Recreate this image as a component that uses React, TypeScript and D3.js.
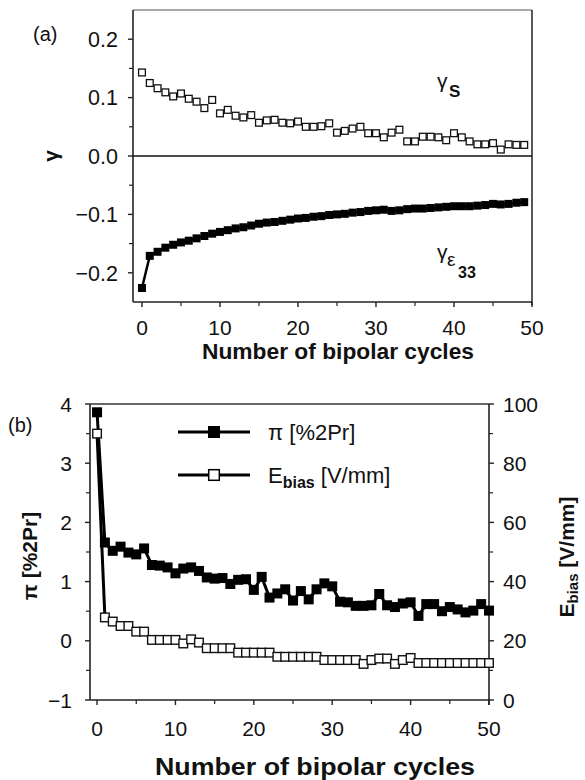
import React from "react";
import * as d3 from "d3";

// ---------- Data ----------
const cyclesA = [0,1,2,3,4,5,6,7,8,9,10,11,12,13,14,15,16,17,18,19,20,21,22,23,24,25,26,27,28,29,30,31,32,33,34,35,36,37,38,39,40,41,42,43,44,45,46,47,48,49];
const gammaS = [0.143,0.125,0.116,0.109,0.102,0.107,0.098,0.093,0.082,0.096,0.073,0.079,0.069,0.066,0.070,0.057,0.061,0.062,0.057,0.056,0.059,0.050,0.050,0.051,0.056,0.040,0.043,0.047,0.050,0.039,0.039,0.032,0.040,0.045,0.025,0.025,0.033,0.033,0.032,0.027,0.039,0.032,0.025,0.020,0.020,0.022,0.011,0.020,0.019,0.019];
const gammaE33 = [-0.226,-0.171,-0.164,-0.157,-0.152,-0.148,-0.145,-0.141,-0.137,-0.133,-0.130,-0.127,-0.124,-0.122,-0.119,-0.116,-0.114,-0.113,-0.111,-0.109,-0.107,-0.106,-0.104,-0.103,-0.101,-0.100,-0.099,-0.097,-0.096,-0.094,-0.093,-0.092,-0.094,-0.093,-0.091,-0.090,-0.090,-0.089,-0.088,-0.087,-0.086,-0.086,-0.086,-0.085,-0.084,-0.082,-0.083,-0.082,-0.080,-0.079];

const cyclesB = [0,1,2,3,4,5,6,7,8,9,10,11,12,13,14,15,16,17,18,19,20,21,22,23,24,25,26,27,28,29,30,31,32,33,34,35,36,37,38,39,40,41,42,43,44,45,46,47,48,49,50];
const piValues = [3.86,1.66,1.52,1.59,1.49,1.46,1.56,1.28,1.27,1.24,1.14,1.22,1.24,1.18,1.07,1.05,1.06,0.96,1.03,1.04,0.86,1.08,0.73,0.80,0.87,0.68,0.84,0.70,0.87,0.97,0.92,0.66,0.65,0.59,0.59,0.60,0.79,0.60,0.57,0.63,0.65,0.42,0.62,0.62,0.50,0.57,0.53,0.48,0.51,0.62,0.51];
const eBias = [90,27.9,26.5,25.0,25.0,23.1,23.1,20.3,20.3,20.3,20.3,19.1,20.5,19.4,17.5,17.5,17.5,17.5,16.0,16.0,16.0,16.0,16.0,14.6,14.6,14.6,14.6,14.6,14.6,13.5,13.5,13.5,13.5,13.5,12.2,13.5,14.0,14.0,12.2,13.5,14.2,12.5,12.5,12.5,12.5,12.5,12.5,12.5,12.5,12.5,12.5];

const aYTicks = [-0.2, -0.1, 0, 0.1, 0.2];
const aYMinor = [-0.15, -0.05, 0.05, 0.15];
const xTicks = [0, 10, 20, 30, 40, 50];
const xMinor = [5, 15, 25, 35, 45];
const bYTicks = [-1, 0, 1, 2, 3, 4];
const bYMinor = [-0.5, 0.5, 1.5, 2.5, 3.5];
const bY2Ticks = [0, 20, 40, 60, 80, 100];
const bY2Minor = [10, 30, 50, 70, 90];

const FONT = "'Liberation Sans', Arial, Helvetica, sans-serif";
const fmtA = (v: number) => (v < 0 ? "\u2212" : "") + Math.abs(v).toFixed(1);
const fmtInt = (v: number) => (v < 0 ? "\u2212" : "") + Math.abs(v);

export default function App() {
  // Panel (a) scales
  const xA = d3.scaleLinear().domain([-1.15, 50]).range([133, 532]);
  const yA = d3.scaleLinear().domain([-0.25, 0.25]).range([302, 10]);
  // Panel (b) scales
  const xB = d3.scaleLinear().domain([-0.9, 50]).range([90, 489]);
  const yB = d3.scaleLinear().domain([-1, 4]).range([700, 404]);
  const yB2 = d3.scaleLinear().domain([0, 100]).range([700, 404]);

  const lineA = d3.line<number>().x((_, i) => xA(cyclesA[i])).y((d) => yA(d));
  const lineBpi = d3.line<number>().x((_, i) => xB(cyclesB[i])).y((d) => yB(d));
  const lineBe = d3.line<number>().x((_, i) => xB(cyclesB[i])).y((d) => yB2(d));

  const sA = 8;
  const sB = 10;

  return (
    <svg width={585} height={780} style={{ position: "absolute", left: 0, top: 0, background: "#fff" }} fontFamily={FONT}>
      <rect x={0} y={0} width={585} height={780} fill="#fff" />
      {/* ================= Panel (a) ================= */}
      <text x={33} y={41} fontSize={20} fill="#111">(a)</text>
      {/* frame */}
      <line x1={xA(-1.15)} x2={xA(50)} y1={yA(0.25)} y2={yA(0.25)} stroke="#555" strokeWidth={1.2} />
      <line x1={xA(50)} x2={xA(50)} y1={yA(0.25)} y2={yA(-0.25) + 3} stroke="#222" strokeWidth={1.5} />
      <line x1={xA(-1.15)} x2={xA(-1.15)} y1={yA(0.25)} y2={yA(-0.25)} stroke="#222" strokeWidth={1.6} />
      <line x1={xA(-1.15)} x2={xA(50)} y1={yA(-0.25)} y2={yA(-0.25)} stroke="#222" strokeWidth={1.6} />
      {/* zero line */}
      <line x1={xA(-1.15)} x2={xA(50)} y1={yA(0)} y2={yA(0)} stroke="#111" strokeWidth={1.6} />
      {/* y ticks */}
      {aYTicks.map((t) => (
        <g key={"ay" + t}>
          <line x1={xA(-1.15) - 5} x2={xA(-1.15)} y1={yA(t)} y2={yA(t)} stroke="#222" strokeWidth={1.4} />
          <text x={118} y={yA(t)} dy="0.36em" textAnchor="end" fontSize={21.5} fill="#111">{fmtA(t)}</text>
        </g>
      ))}
      {aYMinor.map((t) => (
        <line key={"aym" + t} x1={xA(-1.15) - 4} x2={xA(-1.15)} y1={yA(t)} y2={yA(t)} stroke="#222" strokeWidth={1.2} />
      ))}
      {/* x ticks */}
      {xTicks.map((t) => (
        <g key={"ax" + t}>
          <line x1={xA(t)} x2={xA(t)} y1={yA(-0.25)} y2={yA(-0.25) + 5} stroke="#222" strokeWidth={1.4} />
          <text x={xA(t)} y={327} dy="0.36em" textAnchor="middle" fontSize={21} fill="#111">{t}</text>
        </g>
      ))}
      {xMinor.map((t) => (
        <line key={"axm" + t} x1={xA(t)} x2={xA(t)} y1={yA(-0.25)} y2={yA(-0.25) + 4} stroke="#222" strokeWidth={1.2} />
      ))}
      <text x={338} y={351} dy="0.36em" textAnchor="middle" fontSize={22} fontWeight="bold" fill="#111" textLength={272} lengthAdjust="spacingAndGlyphs">Number of bipolar cycles</text>
      <text transform={`translate(50,156) rotate(-90)`} textAnchor="middle" dy="0.36em" fontSize={21} fontWeight="bold" fill="#111">γ</text>
      {/* series */}
      <path d={lineA(gammaE33) || ""} fill="none" stroke="#000" strokeWidth={2.5} />
      {gammaE33.map((v, i) => (
        <rect key={"ge" + i} x={xA(cyclesA[i]) - sA / 2} y={yA(v) - sA / 2} width={sA} height={sA} fill="#000" />
      ))}
      {gammaS.map((v, i) => (
        <rect key={"gs" + i} x={xA(cyclesA[i]) - sA / 2 + 0.6} y={yA(v) - sA / 2 + 0.6} width={sA - 1.2} height={sA - 1.2} fill="#fff" stroke="#111" strokeWidth={1.3} />
      ))}
      {/* annotations */}
      <text x={437} y={88} fontSize={21} fill="#111">γ</text>
      <text x={449} y={97} fontSize={17} fontWeight="bold" fill="#111">S</text>
      <text x={437} y={259} fontSize={21} fill="#111">γ</text>
      <text x={447} y={266} fontSize={19} fill="#111">ε</text>
      <text x={458} y={278} fontSize={16} fontWeight="bold" fill="#111">33</text>

      {/* ================= Panel (b) ================= */}
      <text x={8} y={432} fontSize={20} fill="#111">(b)</text>
      <line x1={xB(-0.9)} x2={xB(50)} y1={yB(4)} y2={yB(4)} stroke="#333" strokeWidth={1.4} />
      <line x1={xB(-0.9)} x2={xB(-0.9)} y1={yB(4)} y2={yB(-1)} stroke="#222" strokeWidth={1.6} />
      <line x1={xB(50)} x2={xB(50)} y1={yB(4)} y2={yB(-1) + 5} stroke="#222" strokeWidth={1.6} />
      <line x1={xB(-0.9)} x2={xB(50)} y1={yB(-1)} y2={yB(-1)} stroke="#222" strokeWidth={1.6} />
      {bYTicks.map((t) => (
        <g key={"by" + t}>
          <line x1={xB(-0.9) - 5} x2={xB(-0.9)} y1={yB(t)} y2={yB(t)} stroke="#222" strokeWidth={1.4} />
          <text x={72} y={yB(t)} dy="0.36em" textAnchor="end" fontSize={21} fill="#111">{fmtInt(t)}</text>
        </g>
      ))}
      {bYMinor.map((t) => (
        <line key={"bym" + t} x1={xB(-0.9) - 4} x2={xB(-0.9)} y1={yB(t)} y2={yB(t)} stroke="#222" strokeWidth={1.2} />
      ))}
      {bY2Ticks.map((t) => (
        <g key={"by2" + t}>
          <line x1={xB(50)} x2={xB(50) + 5} y1={yB2(t)} y2={yB2(t)} stroke="#222" strokeWidth={1.4} />
          <text x={503} y={yB2(t)} dy="0.36em" textAnchor="start" fontSize={21} fill="#111">{t}</text>
        </g>
      ))}
      {bY2Minor.map((t) => (
        <line key={"by2m" + t} x1={xB(50)} x2={xB(50) + 4} y1={yB2(t)} y2={yB2(t)} stroke="#222" strokeWidth={1.2} />
      ))}
      {xTicks.map((t) => (
        <g key={"bx" + t}>
          <line x1={xB(t)} x2={xB(t)} y1={yB(-1)} y2={yB(-1) + 5} stroke="#222" strokeWidth={1.4} />
          <text x={xB(t)} y={728} dy="0.36em" textAnchor="middle" fontSize={21} fill="#111">{t}</text>
        </g>
      ))}
      {xMinor.map((t) => (
        <line key={"bxm" + t} x1={xB(t)} x2={xB(t)} y1={yB(-1)} y2={yB(-1) + 4} stroke="#222" strokeWidth={1.2} />
      ))}
      <text x={315} y={767} dy="0.36em" textAnchor="middle" fontSize={23} fontWeight="bold" fill="#111" textLength={320} lengthAdjust="spacingAndGlyphs">Number of bipolar cycles</text>
      <text transform={`translate(29,556) rotate(-90)`} textAnchor="middle" dy="0.36em" fontSize={21} fontWeight="bold" fill="#111">π [%2Pr]</text>
      <text transform={`translate(566,557) rotate(-90)`} textAnchor="middle" dy="0.36em" fontSize={21} fontWeight="bold" fill="#111">
        E<tspan fontSize={15} dy="4">bias</tspan><tspan dy="-4"> [V/mm]</tspan>
      </text>
      {/* series */}
      <path d={lineBpi(piValues) || ""} fill="none" stroke="#000" strokeWidth={3} />
      <path d={lineBe(eBias) || ""} fill="none" stroke="#000" strokeWidth={3} />
      {piValues.map((v, i) => (
        <rect key={"pi" + i} x={xB(cyclesB[i]) - sB / 2} y={yB(v) - sB / 2} width={sB} height={sB} fill="#000" />
      ))}
      {eBias.map((v, i) => (
        <rect key={"eb" + i} x={xB(cyclesB[i]) - sB / 2 + 0.7} y={yB2(v) - sB / 2 + 0.7} width={sB - 1.4} height={sB - 1.4} fill="#fff" stroke="#111" strokeWidth={1.4} />
      ))}
      {/* legend */}
      <line x1={178} x2={250} y1={432} y2={432} stroke="#000" strokeWidth={3} />
      <rect x={208} y={426} width={12} height={12} fill="#000" />
      <text x={268} y={432} dy="0.36em" fontSize={22} fill="#111">π [%2Pr]</text>
      <line x1={178} x2={250} y1={475} y2={475} stroke="#000" strokeWidth={3} />
      <rect x={208.7} y={469.7} width={10.6} height={10.6} fill="#fff" stroke="#000" strokeWidth={1.5} />
      <text x={268} y={475} dy="0.36em" fontSize={22} fill="#111">
        E<tspan fontSize={16} fontWeight="bold" dy="5">bias</tspan><tspan dy="-5"> [V/mm]</tspan>
      </text>
    </svg>
  );
}
